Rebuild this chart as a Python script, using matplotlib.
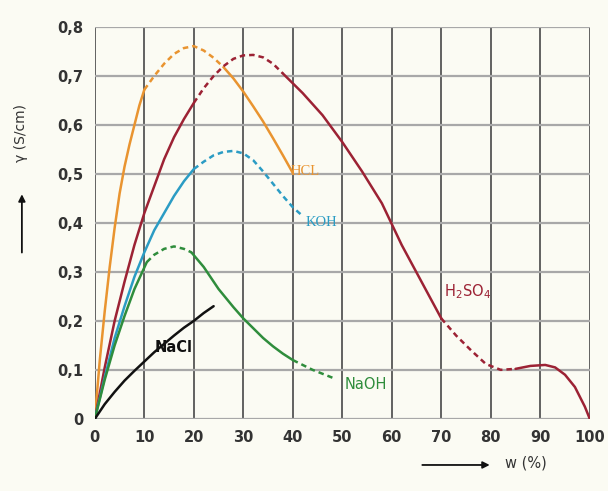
import matplotlib.pyplot as plt
from matplotlib.patches import FancyArrowPatch

# w (%) and gamma (S/cm), split into solid / dashed parts
hcl_solid1_x = [0, 1, 2, 3, 4, 5, 6, 7, 8, 9, 10]
hcl_solid1_y = [0.0, 0.12, 0.22, 0.31, 0.39, 0.46, 0.515, 0.56, 0.60, 0.64, 0.672]
hcl_dash_x = [10, 12, 14, 16, 18, 20, 22, 24, 26]
hcl_dash_y = [0.672, 0.70, 0.725, 0.745, 0.757, 0.761, 0.752, 0.737, 0.718]
hcl_solid2_x = [26, 28, 30, 32, 34, 36, 38, 40]
hcl_solid2_y = [0.718, 0.695, 0.668, 0.638, 0.607, 0.573, 0.538, 0.502]

h2so4_solid1_x = [0, 2, 4, 6, 8, 10, 12, 14, 16, 18, 20]
h2so4_solid1_y = [0.0, 0.105, 0.2, 0.28, 0.355, 0.42, 0.475, 0.53, 0.575, 0.612, 0.645]
h2so4_dash_x = [20, 22, 24, 26, 28, 30, 32, 34, 36, 38]
h2so4_dash_y = [0.645, 0.675, 0.70, 0.72, 0.735, 0.742, 0.743, 0.738, 0.725, 0.705]
h2so4_solid2_x = [38, 42, 46, 50, 54, 58, 62, 66, 70]
h2so4_solid2_y = [0.705, 0.665, 0.62, 0.565, 0.505, 0.44, 0.355, 0.28, 0.205]
h2so4_dash2_x = [70, 73, 76, 79, 82, 85]
h2so4_dash2_y = [0.205, 0.17, 0.14, 0.112, 0.1, 0.102]
h2so4_solid3_x = [85, 88, 91, 93, 95, 97, 99, 100]
h2so4_solid3_y = [0.102, 0.108, 0.11, 0.105, 0.09, 0.065, 0.025, 0.0]

koh_solid_x = [0, 2, 4, 6, 8, 10, 12, 14, 16, 18, 20]
koh_solid_y = [0.0, 0.085, 0.165, 0.23, 0.29, 0.34, 0.385, 0.42, 0.455, 0.485, 0.51]
koh_dash_x = [20, 22, 24, 26, 28, 30, 32, 34, 36, 38, 40, 42]
koh_dash_y = [0.51, 0.525, 0.538, 0.545, 0.547, 0.542, 0.528, 0.505, 0.48, 0.455, 0.432, 0.414]

naoh_solid1_x = [0, 2, 4, 6, 8, 10.5]
naoh_solid1_y = [0.0, 0.08, 0.15, 0.21, 0.265, 0.32]
naoh_dash_x = [10.5, 12, 14, 16, 18, 19.5]
naoh_dash_y = [0.32, 0.335, 0.347, 0.352, 0.347, 0.34]
naoh_solid2_x = [19.5, 22, 25, 28, 30, 32, 34, 36, 38, 40]
naoh_solid2_y = [0.34, 0.31, 0.265, 0.228, 0.205, 0.185, 0.165, 0.148, 0.133, 0.12]
naoh_dash2_x = [40, 42, 44, 46, 48]
naoh_dash2_y = [0.12, 0.11, 0.1, 0.092, 0.084]

nacl_x = [0, 2, 4, 6, 8, 10, 12, 14, 16, 18, 20, 22, 24]
nacl_y = [0.0, 0.03, 0.055, 0.078, 0.098, 0.117, 0.136, 0.153, 0.17, 0.186, 0.2, 0.216, 0.23]

x_ticks = list(range(0, 101, 10))
y_ticks = [0, 0.1, 0.2, 0.3, 0.4, 0.5, 0.6, 0.7, 0.8]
y_tick_labels = ['0', '0,1', '0,2', '0,3', '0,4', '0,5', '0,6', '0,7', '0,8']

c_hcl = '#e99430'
c_h2so4 = '#9c2234'
c_koh = '#2b9cc4'
c_naoh = '#2f8d3c'
c_nacl = '#111111'

fig = plt.figure(figsize=(6.08, 4.91), dpi=100)
fig.patch.set_facecolor('#fbfbf3')
ax = fig.add_axes([0.156, 0.147, 0.814, 0.798])
ax.set_facecolor('#fbfbf3')

lw = 1.8
dash = (0, (2.2, 1.6))


def draw(xs, ys, color, dashed=False):
    ax.plot(xs, ys, color=color, lw=lw, linestyle=dash if dashed else '-',
            solid_capstyle='round', zorder=3)


draw(hcl_solid1_x, hcl_solid1_y, c_hcl)
draw(hcl_dash_x, hcl_dash_y, c_hcl, True)
draw(hcl_solid2_x, hcl_solid2_y, c_hcl)

draw(h2so4_solid1_x, h2so4_solid1_y, c_h2so4)
draw(h2so4_dash_x, h2so4_dash_y, c_h2so4, True)
draw(h2so4_solid2_x, h2so4_solid2_y, c_h2so4)
draw(h2so4_dash2_x, h2so4_dash2_y, c_h2so4, True)
draw(h2so4_solid3_x, h2so4_solid3_y, c_h2so4)

draw(koh_solid_x, koh_solid_y, c_koh)
draw(koh_dash_x, koh_dash_y, c_koh, True)

draw(naoh_solid1_x, naoh_solid1_y, c_naoh)
draw(naoh_dash_x, naoh_dash_y, c_naoh, True)
draw(naoh_solid2_x, naoh_solid2_y, c_naoh)
draw(naoh_dash2_x, naoh_dash2_y, c_naoh, True)

draw(nacl_x, nacl_y, c_nacl)

ax.set_xlim(0, 100)
ax.set_ylim(0, 0.8)
ax.set_xticks(x_ticks)
ax.set_yticks(y_ticks)
ax.set_yticklabels(y_tick_labels)
ax.tick_params(length=0, pad=8, labelsize=10.5, labelcolor='#333333')
for lab in ax.get_xticklabels() + ax.get_yticklabels():
    lab.set_fontweight('bold')

for s in ax.spines.values():
    s.set_visible(False)
for xv in x_ticks:
    ax.axvline(xv, color='#555555', lw=1.3, zorder=1)
for yv in y_ticks:
    ax.axhline(yv, color='#a8a8a8', lw=1.6, zorder=1)

# curve labels
ax.text(39.5, 0.505, 'HCL', color=c_hcl, fontsize=10.5, va='center', ha='left', family='Liberation Serif')
ax.text(42.5, 0.40, 'KOH', color=c_koh, fontsize=10.5, va='center', ha='left', family='Liberation Serif')
ax.text(50.5, 0.07, 'NaOH', color=c_naoh, fontsize=10.5, va='center', ha='left')
ax.text(70.5, 0.26, 'H$_2$SO$_4$', color=c_h2so4, fontsize=10.5, va='center', ha='left')
ax.text(12, 0.145, 'NaCl', color=c_nacl, fontsize=10.5, fontweight='bold', va='center', ha='left')

# axis labels with arrows
fig.text(0.034, 0.73, 'γ (S/cm)', rotation=90, fontsize=10, color='#333333', ha='center', va='center')
fig.patches.append(FancyArrowPatch(
    (0.036, 0.48), (0.036, 0.61), transform=fig.transFigure, arrowstyle='-|>',
    mutation_scale=10, color='#111111', lw=1.3))
fig.text(0.865, 0.058, 'w (%)', fontsize=10.5, color='#333333', ha='center', va='center')
fig.patches.append(FancyArrowPatch(
    (0.69, 0.053), (0.81, 0.053), transform=fig.transFigure, arrowstyle='-|>',
    mutation_scale=10, color='#111111', lw=1.3))

fig.savefig('out.png', dpi=100, facecolor=fig.get_facecolor())
